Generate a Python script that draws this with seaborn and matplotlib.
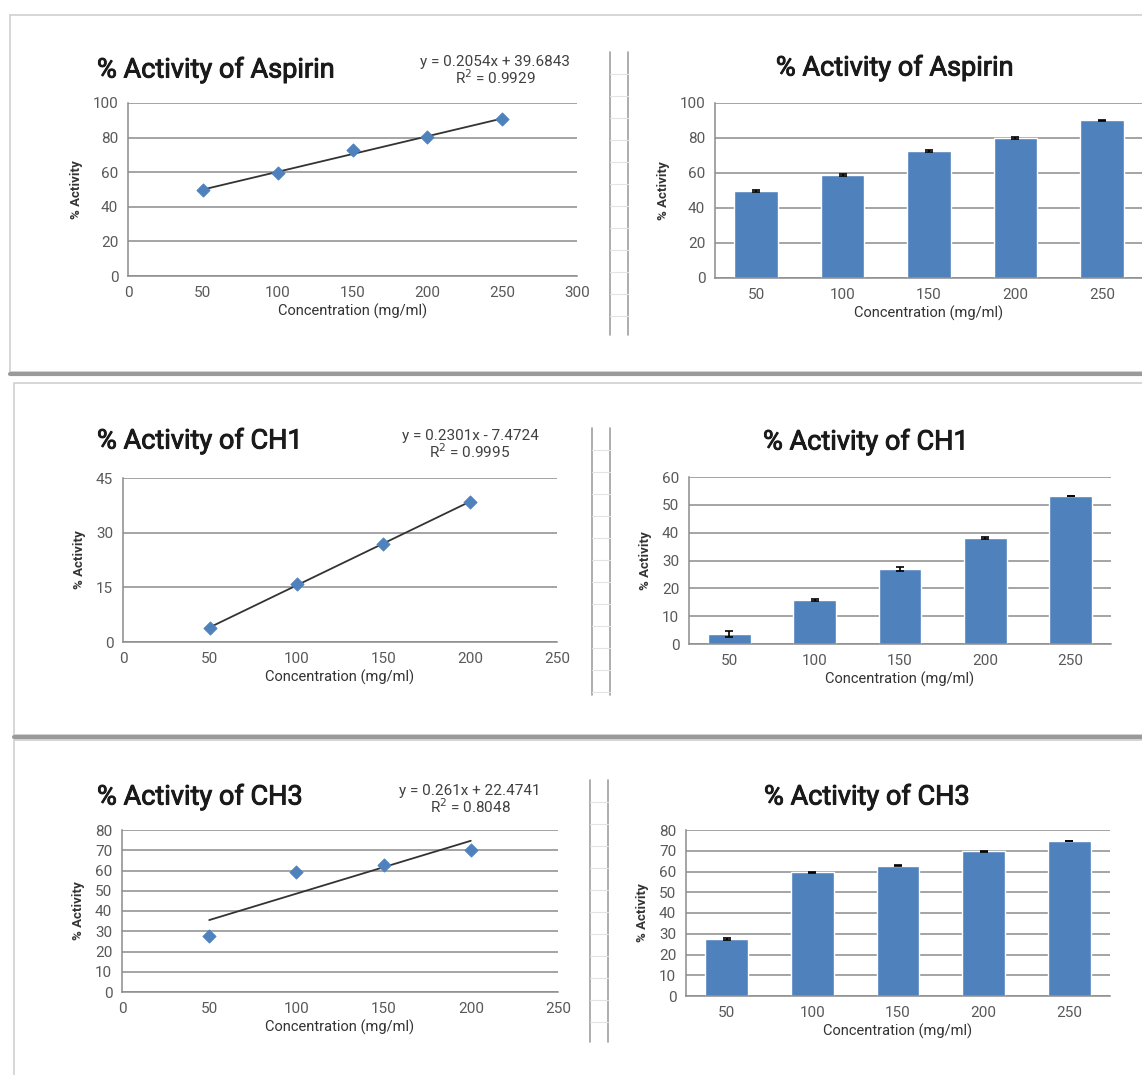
import numpy as np
import matplotlib
matplotlib.use("Agg")
import matplotlib.pyplot as plt
import matplotlib.patheffects as pe
import seaborn as sns
from matplotlib.patches import Rectangle
from matplotlib.lines import Line2D

# ---- data ----
compounds = ["Aspirin", "CH1", "CH3"]

# scatter (left column)
asp_conc = [50, 100, 150, 200, 250]
asp_act = [50.0, 59.5, 73.0, 80.5, 90.5]
ch1_conc = [50, 100, 150, 200]
ch1_act = [3.8, 16.0, 27.0, 38.5]
ch3_conc = [50, 100, 150, 200]
ch3_act = [27.5, 59.5, 62.5, 70.0]

# trendline coefficients printed on the chart
slopes = [0.2054, 0.2301, 0.261]
intercepts = [39.6843, -7.4724, 22.4741]
r2_values = [0.9929, 0.9995, 0.8048]

# bars (right column)
bar_labels = ["50", "100", "150", "200", "250"]
asp_bar = [49.5, 59.0, 72.5, 80.0, 90.0]
asp_err = [0.5, 0.5, 0.5, 0.5, 0.4]
ch1_bar = [3.5, 15.8, 26.8, 38.2, 53.0]
ch1_err = [1.0, 0.3, 0.7, 0.3, 0.0]
ch3_bar = [27.5, 59.7, 62.8, 69.8, 74.5]
ch3_err = [0.4, 0.3, 0.3, 0.3, 0.0]

sns.set_style("white")
plt.rcParams["font.family"] = ["Roboto", "DejaVu Sans"]

W, H = 1142, 1075
fig = plt.figure(figsize=(W / 100, H / 100), dpi=100)


def fx(px):
    return px / W


def fy(py):
    return 1 - py / H


def axes_px(x0, x1, ytop, ybot):
    return fig.add_axes([fx(x0), fy(ybot), fx(x1 - x0), (ybot - ytop) / H])


BLUE = "#4f81bd"
GRID = "#8c8c8c"
TICK = "#595959"
title_fx = [pe.withStroke(linewidth=0.7, foreground="#1a1a1a")]

# panel frames (screenshot cards)
for top, bot, left in [(15, 372, 10), (383, 735, 14), (740, 1090, 14)]:
    fig.patches.append(Rectangle((fx(left), fy(bot)), fx(W + 20 - left), (bot - top) / H,
                                 transform=fig.transFigure, facecolor="none",
                                 edgecolor="#cfcfcf", lw=1.2, zorder=-2))
    fig.add_artist(Line2D([fx(left), 1], [fy(bot + 2), fy(bot + 2)], color="#9a9a9a",
                          lw=3, zorder=-1))

# spreadsheet-like separators between the two charts
for xa, xb, top, bot in [(610, 628, 52, 335), (592, 610, 428, 695), (590, 608, 780, 1042)]:
    for xx in (xa, xb):
        fig.add_artist(Line2D([fx(xx), fx(xx)], [fy(top), fy(bot)], color="#a0a0a0", lw=1.2))
    for yy in np.arange(top + 22, bot, 22):
        fig.add_artist(Line2D([fx(xa), fx(xb)], [fy(yy), fy(yy)], color="#e3e3e3", lw=0.8))


def style_axes(ax, ymax, ystep):
    ax.set_ylim(0, ymax)
    ax.set_yticks(np.arange(0, ymax + 0.1, ystep))
    ax.yaxis.grid(True, color=GRID, lw=1.1)
    ax.xaxis.grid(False)
    ax.set_axisbelow(True)
    for s in ["top", "right"]:
        ax.spines[s].set_visible(False)
    for s in ["left", "bottom"]:
        ax.spines[s].set_color(GRID)
        ax.spines[s].set_linewidth(1.1)
    ax.tick_params(axis="y", length=5, color=GRID, labelsize=11, labelcolor=TICK, pad=2)
    ax.tick_params(axis="x", length=0, labelsize=11, labelcolor=TICK, pad=7)
    ax.set_facecolor("none")
    ax.set_ylabel("% Activity", fontsize=9.5, color="#333333", fontweight="bold", labelpad=7)


def scatter_panel(box, conc, act, k, xmax, ymax, ystep, title_xy, eq_xy):
    ax = axes_px(*box)
    sns.scatterplot(x=conc, y=act, marker="D", s=46, color=BLUE, edgecolor=BLUE, ax=ax, zorder=3)
    xs = np.array([min(conc), max(conc)])
    sns.lineplot(x=xs, y=slopes[k] * xs + intercepts[k], color="#333333", lw=1.3, ax=ax, zorder=2)
    ax.set_xlim(0, xmax)
    ax.set_xticks(np.arange(0, xmax + 1, 50))
    style_axes(ax, ymax, ystep)
    ax.set_xlabel("Concentration (mg/ml)", fontsize=10.5, color="#333333", labelpad=3)
    fig.text(fx(title_xy[0]), fy(title_xy[1]), f"% Activity of {compounds[k]}", fontsize=19.5,
             color="#1a1a1a", va="center", ha="left", path_effects=title_fx)
    sign = "+" if intercepts[k] >= 0 else "-"
    fig.text(fx(eq_xy[0]), fy(eq_xy[1]),
             f"y = {slopes[k]}x {sign} {abs(intercepts[k])}", fontsize=11,
             color="#404040", ha="center", va="center")
    fig.text(fx(eq_xy[0]), fy(eq_xy[1] + 16), f"R$^2$ = {r2_values[k]}", fontsize=11,
             color="#404040", ha="center", va="center")
    return ax


def bar_panel(box, vals, errs, k, ymax, ystep, title_xy):
    ax = axes_px(*box)
    sns.barplot(x=bar_labels, y=vals, color=BLUE, saturation=1, width=0.5,
                errorbar=None, ax=ax, zorder=2)
    ax.errorbar(np.arange(len(vals)), vals, yerr=errs, fmt="none", ecolor="black",
                elinewidth=1.2, capsize=3, capthick=1.2, zorder=3)
    style_axes(ax, ymax, ystep)
    ax.set_xlabel("Concentration (mg/ml)", fontsize=10.5, color="#333333", labelpad=3)
    fig.text(fx(title_xy[0]), fy(title_xy[1]), f"% Activity of {compounds[k]}", fontsize=19.5,
             color="#1a1a1a", va="center", ha="center", path_effects=title_fx)
    return ax


scatter_panel((128, 577, 103, 276), asp_conc, asp_act, 0, 300, 100, 20, (97, 70), (495, 62))
bar_panel((715, 1143, 103, 278), asp_bar, asp_err, 0, 100, 20, (895, 68))

scatter_panel((123, 557, 478, 642), ch1_conc, ch1_act, 1, 250, 45, 15, (97, 441), (470, 436))
bar_panel((689, 1111, 477, 644), ch1_bar, ch1_err, 1, 60, 10, (866, 442))

scatter_panel((122, 558, 830, 992), ch3_conc, ch3_act, 2, 250, 80, 10, (97, 797), (470, 791))
bar_panel((686, 1110, 830, 996), ch3_bar, ch3_err, 2, 80, 10, (867, 797))

fig.savefig("out.png", dpi=100)
